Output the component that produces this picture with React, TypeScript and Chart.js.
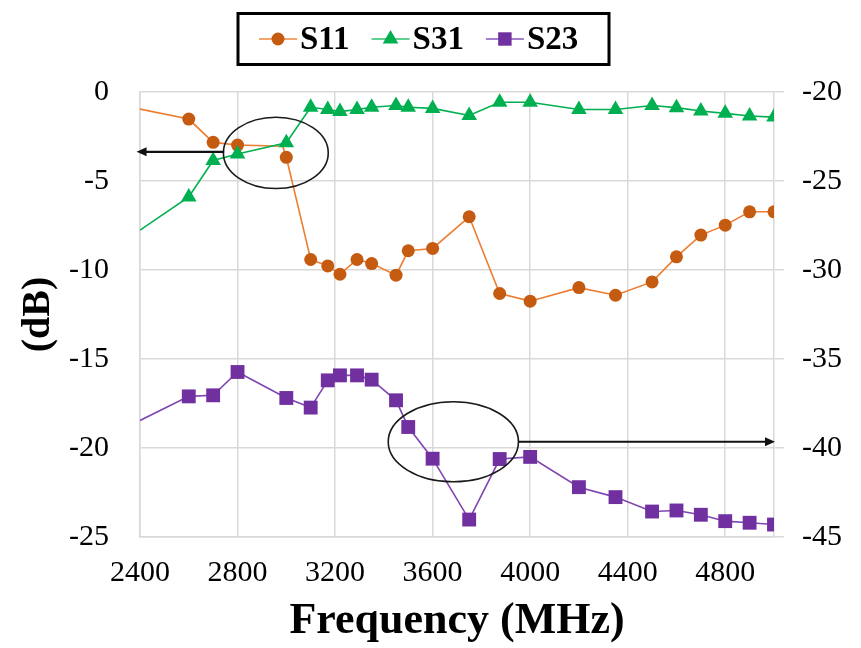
import React, { useEffect, useRef } from "react";
import { Chart, registerables } from "chart.js";

Chart.register(...registerables);

// ---------- data ----------
const xTickValues = [2400, 2800, 3200, 3600, 4000, 4400, 4800];

const freqS11 = [2400, 2600, 2700, 2800, 2985, 3000, 3100, 3170, 3220, 3290, 3350, 3450, 3500, 3600, 3750, 3875, 4000, 4200, 4350, 4500, 4600, 4700, 4800, 4900, 5000];
const s11 = [-0.96, -1.52, -2.83, -2.98, -3.05, -3.67, -9.41, -9.77, -10.24, -9.41, -9.64, -10.29, -8.92, -8.79, -7.01, -11.32, -11.75, -10.99, -11.42, -10.67, -9.26, -8.04, -7.48, -6.73, -6.73];
// points of S11 drawn without a marker (line only)
const s11NoMarker = [0, 4];

const freq = [2400, 2600, 2700, 2800, 3000, 3100, 3170, 3220, 3290, 3350, 3450, 3500, 3600, 3750, 3875, 4000, 4200, 4350, 4500, 4600, 4700, 4800, 4900, 5000];
const s31 = [-7.76, -5.9, -3.85, -3.48, -2.85, -0.86, -0.98, -1.1, -0.98, -0.86, -0.76, -0.86, -0.92, -1.32, -0.58, -0.58, -0.98, -0.98, -0.76, -0.88, -1.07, -1.2, -1.35, -1.41];
// S23 is read on the right-hand axis
const s23 = [-38.45, -37.1, -37.04, -35.73, -37.19, -37.73, -36.2, -35.92, -35.92, -36.16, -37.32, -38.82, -40.6, -44.02, -40.62, -40.5, -42.2, -42.76, -43.57, -43.51, -43.75, -44.11, -44.2, -44.3];

const seriesNames = ["S11", "S31", "S23"];

// annotations (data coordinates on the x / left-y axes)
const ellipses = [
  { x: 2957, y: -3.42, rx: 215, ry: 2.0 },
  { x: 3685, y: -19.65, rx: 267, ry: 2.25 },
];
const arrows = [
  { x1: 2745, x2: 2386, y: -3.36 },
  { x1: 3951, x2: 5004, y: -19.65 },
];

const FONT = "'Liberation Serif', 'Times New Roman', Times, serif";
const GRID = "#d9d9d9";
const C11_LINE = "#ED7D31";
const C11_PT = "#C55A11";
const C31 = "#00B050";
const C23_LINE = "#7F45B0";
const C23_PT = "#7030A0";

const hideAt = (r: number, hidden: number[]) => (ctx: any) => (hidden.includes(ctx.dataIndex) ? 0 : r);

function drawMarker(ctx: CanvasRenderingContext2D, style: string, x: number, y: number, r: number, color: string) {
  ctx.fillStyle = color;
  ctx.beginPath();
  if (style === "circle") {
    ctx.arc(x, y, r, 0, Math.PI * 2);
  } else if (style === "triangle") {
    ctx.moveTo(x, y - r);
    ctx.lineTo(x + r * Math.sin((2 * Math.PI) / 3), y - r * Math.cos((2 * Math.PI) / 3));
    ctx.lineTo(x + r * Math.sin((4 * Math.PI) / 3), y - r * Math.cos((4 * Math.PI) / 3));
    ctx.closePath();
  } else {
    const s = r * Math.SQRT1_2;
    ctx.rect(x - s, y - s, 2 * s, 2 * s);
  }
  ctx.fill();
}

const overlayPlugin = {
  id: "overlay",
  afterDatasetsDraw(chart: any) {
    const { ctx, scales } = chart;
    const xs = scales.x;
    const ys = scales.y;
    ctx.save();
    // ellipses
    ctx.strokeStyle = "#1a1a1a";
    ctx.lineWidth = 1.6;
    for (const e of ellipses) {
      const cx = xs.getPixelForValue(e.x);
      const cy = ys.getPixelForValue(e.y);
      const rx = Math.abs(xs.getPixelForValue(e.x + e.rx) - cx);
      const ry = Math.abs(ys.getPixelForValue(e.y + e.ry) - cy);
      ctx.beginPath();
      ctx.ellipse(cx, cy, rx, ry, 0, 0, Math.PI * 2);
      ctx.stroke();
    }
    // arrows
    ctx.strokeStyle = "#111";
    ctx.fillStyle = "#111";
    ctx.lineWidth = 2.2;
    for (const a of arrows) {
      const px1 = xs.getPixelForValue(a.x1);
      const px2 = xs.getPixelForValue(a.x2);
      const py = ys.getPixelForValue(a.y);
      const dir = Math.sign(px2 - px1);
      const head = 10;
      ctx.beginPath();
      ctx.moveTo(px1, py);
      ctx.lineTo(px2 - dir * head * 0.8, py);
      ctx.stroke();
      ctx.beginPath();
      ctx.moveTo(px2, py);
      ctx.lineTo(px2 - dir * head, py - 4.5);
      ctx.lineTo(px2 - dir * head, py + 4.5);
      ctx.closePath();
      ctx.fill();
    }
    // legend
    const boxX = 238, boxY = 13.5, boxW = 371, boxH = 51;
    ctx.fillStyle = "#fff";
    ctx.fillRect(boxX, boxY, boxW, boxH);
    ctx.strokeStyle = "#000";
    ctx.lineWidth = 3;
    ctx.strokeRect(boxX, boxY, boxW, boxH);
    const items = [
      { name: seriesNames[0], line: "#F4A46E", pt: C11_PT, style: "circle", r: 6.5 },
      { name: seriesNames[1], line: "#5fd08f", pt: C31, style: "triangle", r: 9 },
      { name: seriesNames[2], line: "#a57fcb", pt: C23_PT, style: "rect", r: 9.5 },
    ];
    ctx.font = `bold 33px ${FONT}`;
    ctx.textBaseline = "middle";
    ctx.textAlign = "left";
    let x = 259;
    const ly = 39;
    for (const it of items) {
      ctx.strokeStyle = it.line;
      ctx.lineWidth = 2;
      ctx.beginPath();
      ctx.moveTo(x, ly);
      ctx.lineTo(x + 38, ly);
      ctx.stroke();
      drawMarker(ctx, it.style, x + 19, ly, it.r, it.pt);
      ctx.fillStyle = "#000";
      ctx.fillText(it.name, x + 41, ly + 1);
      x = x + 41 + ctx.measureText(it.name).width + 22;
    }
    ctx.restore();
  },
};

export default function App() {
  const canvasRef = useRef<HTMLCanvasElement | null>(null);

  useEffect(() => {
    document.body.style.margin = "0";
    const canvas = canvasRef.current;
    if (!canvas) return;
    const toXY = (xs: number[], ys: number[]) => xs.map((v, i) => ({ x: v, y: ys[i] }));

    const tickFont = { family: FONT, size: 30 };
    const chart = new Chart(canvas, {
      type: "scatter",
      data: {
        datasets: [
          {
            label: seriesNames[0],
            data: toXY(freqS11, s11),
            yAxisID: "y",
            showLine: true,
            borderColor: C11_LINE,
            borderWidth: 1.6,
            backgroundColor: C11_PT,
            pointBackgroundColor: C11_PT,
            pointBorderColor: C11_PT,
            pointStyle: "circle",
            pointRadius: hideAt(6.5, s11NoMarker),
            pointBorderWidth: 0,
            order: 3,
          },
          {
            label: seriesNames[1],
            data: toXY(freq, s31),
            yAxisID: "y",
            showLine: true,
            borderColor: C31,
            borderWidth: 1.6,
            backgroundColor: C31,
            pointBackgroundColor: C31,
            pointBorderColor: C31,
            pointStyle: "triangle",
            pointRadius: hideAt(9, [0]),
            pointBorderWidth: 0,
            order: 2,
          },
          {
            label: seriesNames[2],
            data: toXY(freq, s23),
            yAxisID: "y2",
            showLine: true,
            borderColor: C23_LINE,
            borderWidth: 1.6,
            backgroundColor: C23_PT,
            pointBackgroundColor: C23_PT,
            pointBorderColor: C23_PT,
            pointStyle: "rect",
            pointRadius: hideAt(9.8, [0]),
            pointBorderWidth: 0,
            order: 1,
          },
        ],
      },
      options: {
        responsive: false,
        animation: false,
        events: [],
        layout: { padding: { top: 92, left: 0, right: 0, bottom: 0 } },
        plugins: {
          legend: { display: false },
          tooltip: { enabled: false },
          title: { display: false },
        },
        scales: {
          x: {
            type: "linear",
            min: 2400,
            max: 5000,
            afterFit: (s: any) => {
              s.height = 111;
            },
            afterBuildTicks: (s: any) => {
              s.ticks = xTickValues.map((v) => ({ value: v }));
            },
            ticks: {
              font: tickFont,
              color: "#000",
              padding: 18,
              maxRotation: 0,
              autoSkip: false,
              callback: (v: any) => String(v),
            },
            grid: { color: GRID, lineWidth: 1.5, drawTicks: false },
            border: { color: GRID, width: 1.5 },
            title: {
              display: true,
              text: "Frequency (MHz)",
              color: "#000",
              font: { family: FONT, size: 44, weight: "bold" },
              padding: { top: 0, bottom: 0 },
            },
          },
          y: {
            position: "left",
            min: -25,
            max: 0,
            afterFit: (s: any) => {
              s.width = 140;
            },
            ticks: {
              stepSize: 5,
              font: tickFont,
              color: "#000",
              padding: 31,
              callback: (v: any) => String(v),
            },
            grid: { color: GRID, lineWidth: 1.5, drawTicks: false },
            border: { color: GRID, width: 1.5 },
            title: {
              display: true,
              text: "(dB)",
              color: "#000",
              font: { family: FONT, size: 40, weight: "bold" },
              padding: { top: 15, bottom: 0 },
            },
          },
          y2: {
            position: "right",
            min: -45,
            max: -20,
            afterFit: (s: any) => {
              s.width = 87;
            },
            ticks: {
              stepSize: 5,
              font: tickFont,
              color: "#000",
              padding: 18,
              callback: (v: any) => String(v),
            },
            grid: { drawOnChartArea: false, drawTicks: true, tickLength: 10, color: GRID, lineWidth: 1.5 },
            border: { color: GRID, width: 1.5 },
          },
        },
      },
      plugins: [overlayPlugin],
    } as any);

    return () => {
      chart.destroy();
    };
  }, []);

  return (
    <div style={{ position: "absolute", left: 0, top: 0, width: 861, height: 648, background: "#fff" }}>
      <canvas ref={canvasRef} width={861} height={648} style={{ display: "block" }} />
    </div>
  );
}
